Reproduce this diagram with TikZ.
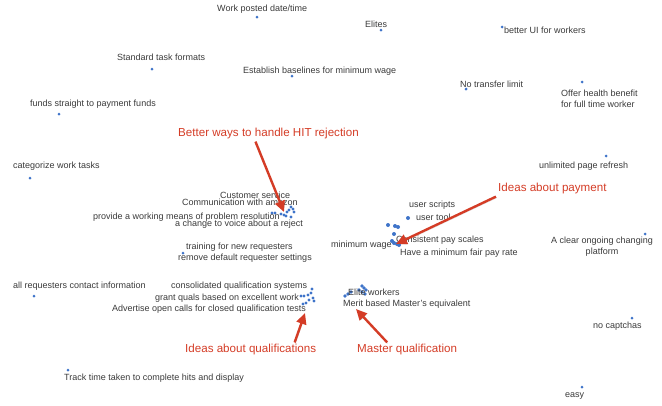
\documentclass[tikz,border=0pt]{standalone}
\usepackage{fontspec}
\setmainfont{Liberation Sans}
\usetikzlibrary{arrows.meta}
\definecolor{ink}{HTML}{3A3A3A}
\definecolor{ptblue}{HTML}{3F74C9}
\definecolor{notered}{HTML}{D43C26}

\tikzset{
  lbl/.style={anchor=west, inner sep=0pt, text=ink, font=\fontsize{9}{10.8}\selectfont},
  note/.style={anchor=west, inner sep=0pt, text=notered, font=\fontsize{11.6}{13}\selectfont},
  pointer/.style={draw=notered, line width=2.4pt, -{Triangle[length=11pt, width=10pt]},
    preaction={draw=black, opacity=0.15, transform canvas={shift={(0.8pt,-1.2pt)}}}},
}

\begin{document}
\begin{tikzpicture}[x=1pt, y=-1pt]
\useasboundingbox (0,0) rectangle (662,405);

% single points
\foreach \px/\py in {257/17, 381/30, 502/27, 152/69, 292/76, 466/89, 582/82, 59/114,
  30/178, 606/156, 645/234, 183/253, 34/296, 68/370, 632/318, 582/387}
  \fill[ptblue] (\px,\py) circle (1.5);
% clusters
\foreach \px/\py in {272/213, 275/213, 281/214, 284/215, 287/212, 289/210, 291/207,
  293/209, 294/212, 291/217, 286/216}
  \fill[ptblue] (\px,\py) circle (1.7);
\foreach \px/\py in {388/225, 395/226, 398/227, 408/218, 394/234, 392/241, 394/243,
  397/244, 399/245}
  \fill[ptblue] (\px,\py) circle (2);
\foreach \px/\py in {301/296, 304/296, 308/295, 311/293, 312/289, 313/298, 314/301,
  309/300, 306/303, 303/304}
  \fill[ptblue] (\px,\py) circle (1.6);
\foreach \px/\py in {345/296, 348/294, 351/292, 362/286, 364/288, 366/290, 365/294,
  362/292, 359/290}
  \fill[ptblue] (\px,\py) circle (1.8);

% labels
\node[lbl] (wpd) at (217,9) {Work posted date/time};
\node[lbl] (elites) at (365,24) {Elites};
\node[lbl] (bui) at (504,30) {better UI for workers};
\node[lbl] (stf) at (117,57) {Standard task formats};
\node[lbl] (ebm) at (243,71) {Establish baselines for minimum wage};
\node[lbl] (ntl) at (460,84) {No transfer limit};
\node[lbl, align=left] (ohb) at (561,98.5) {Offer health benefit\\for full time worker};
\node[lbl] (fsp) at (30,104) {funds straight to payment funds};
\node[lbl] (cwt) at (13,166) {categorize work tasks};
\node[lbl] (upr) at (539,166) {unlimited page refresh};
\node[lbl] (cs) at (220,195) {Customer service};
\node[lbl] (cwa) at (182,202) {Communication with amazon};
\node[lbl] (pwm) at (93,217) {provide a working means of problem resolution};
\node[lbl] (ctv) at (175,224) {a change to voice about a reject};
\node[lbl] (tnr) at (186,247) {training for new requesters};
\node[lbl] (rdr) at (178,258) {remove default requester settings};
\node[lbl] (us) at (409,205) {user scripts};
\node[lbl] (ut) at (416,217) {user tool};
\node[lbl] (cps) at (396,240) {Consistent pay scales};
\node[lbl] (mw) at (331,245) {minimum wage};
\node[lbl] (hmf) at (400,253) {Have a minimum fair pay rate};
\node[lbl, anchor=center, align=center] (cocp) at (602,246.5) {A clear ongoing changing\\platform};
\node[lbl] (arc) at (13,286) {all requesters contact information};
\node[lbl] (cqs) at (171,286) {consolidated qualification systems};
\node[lbl] (gqb) at (155,298) {grant quals based on excellent work};
\node[lbl] (aoc) at (112,309) {Advertise open calls for closed qualification tests};
\node[lbl] (ttt) at (64,378) {Track time taken to complete hits and display};
\node[lbl] (ew) at (348,292) {Elite workers};
\node[lbl] (mbm) at (343,304) {Merit based Master's equivalent};
\node[lbl] (nc) at (593,326) {no captchas};
\node[lbl] (easy) at (565,396) {easy};

% annotations
\node[note] (hit) at (178,133) {Better ways to handle HIT rejection};
\node[note] (pay) at (498,188) {Ideas about payment};
\node[note] (qual) at (185,349) {Ideas about qualifications};
\node[note] (mast) at (357,349) {Master qualification};

\coordinate (tiphit) at (284,212);
\coordinate (tippay) at (396,244);
\coordinate (tipqual) at (305,313);
\coordinate (tipmast) at (356,309);

\draw[pointer] ([xshift=-13pt, yshift=-3pt]hit.south) -- (tiphit);
\draw[pointer] ([xshift=-2pt, yshift=-3pt]pay.south west) -- (tippay);
\draw[pointer] ([xshift=44pt, yshift=1pt]qual.north) -- (tipqual);
\draw[pointer] ([xshift=-20pt, yshift=1pt]mast.north) -- (tipmast);
\end{tikzpicture}
\end{document}
